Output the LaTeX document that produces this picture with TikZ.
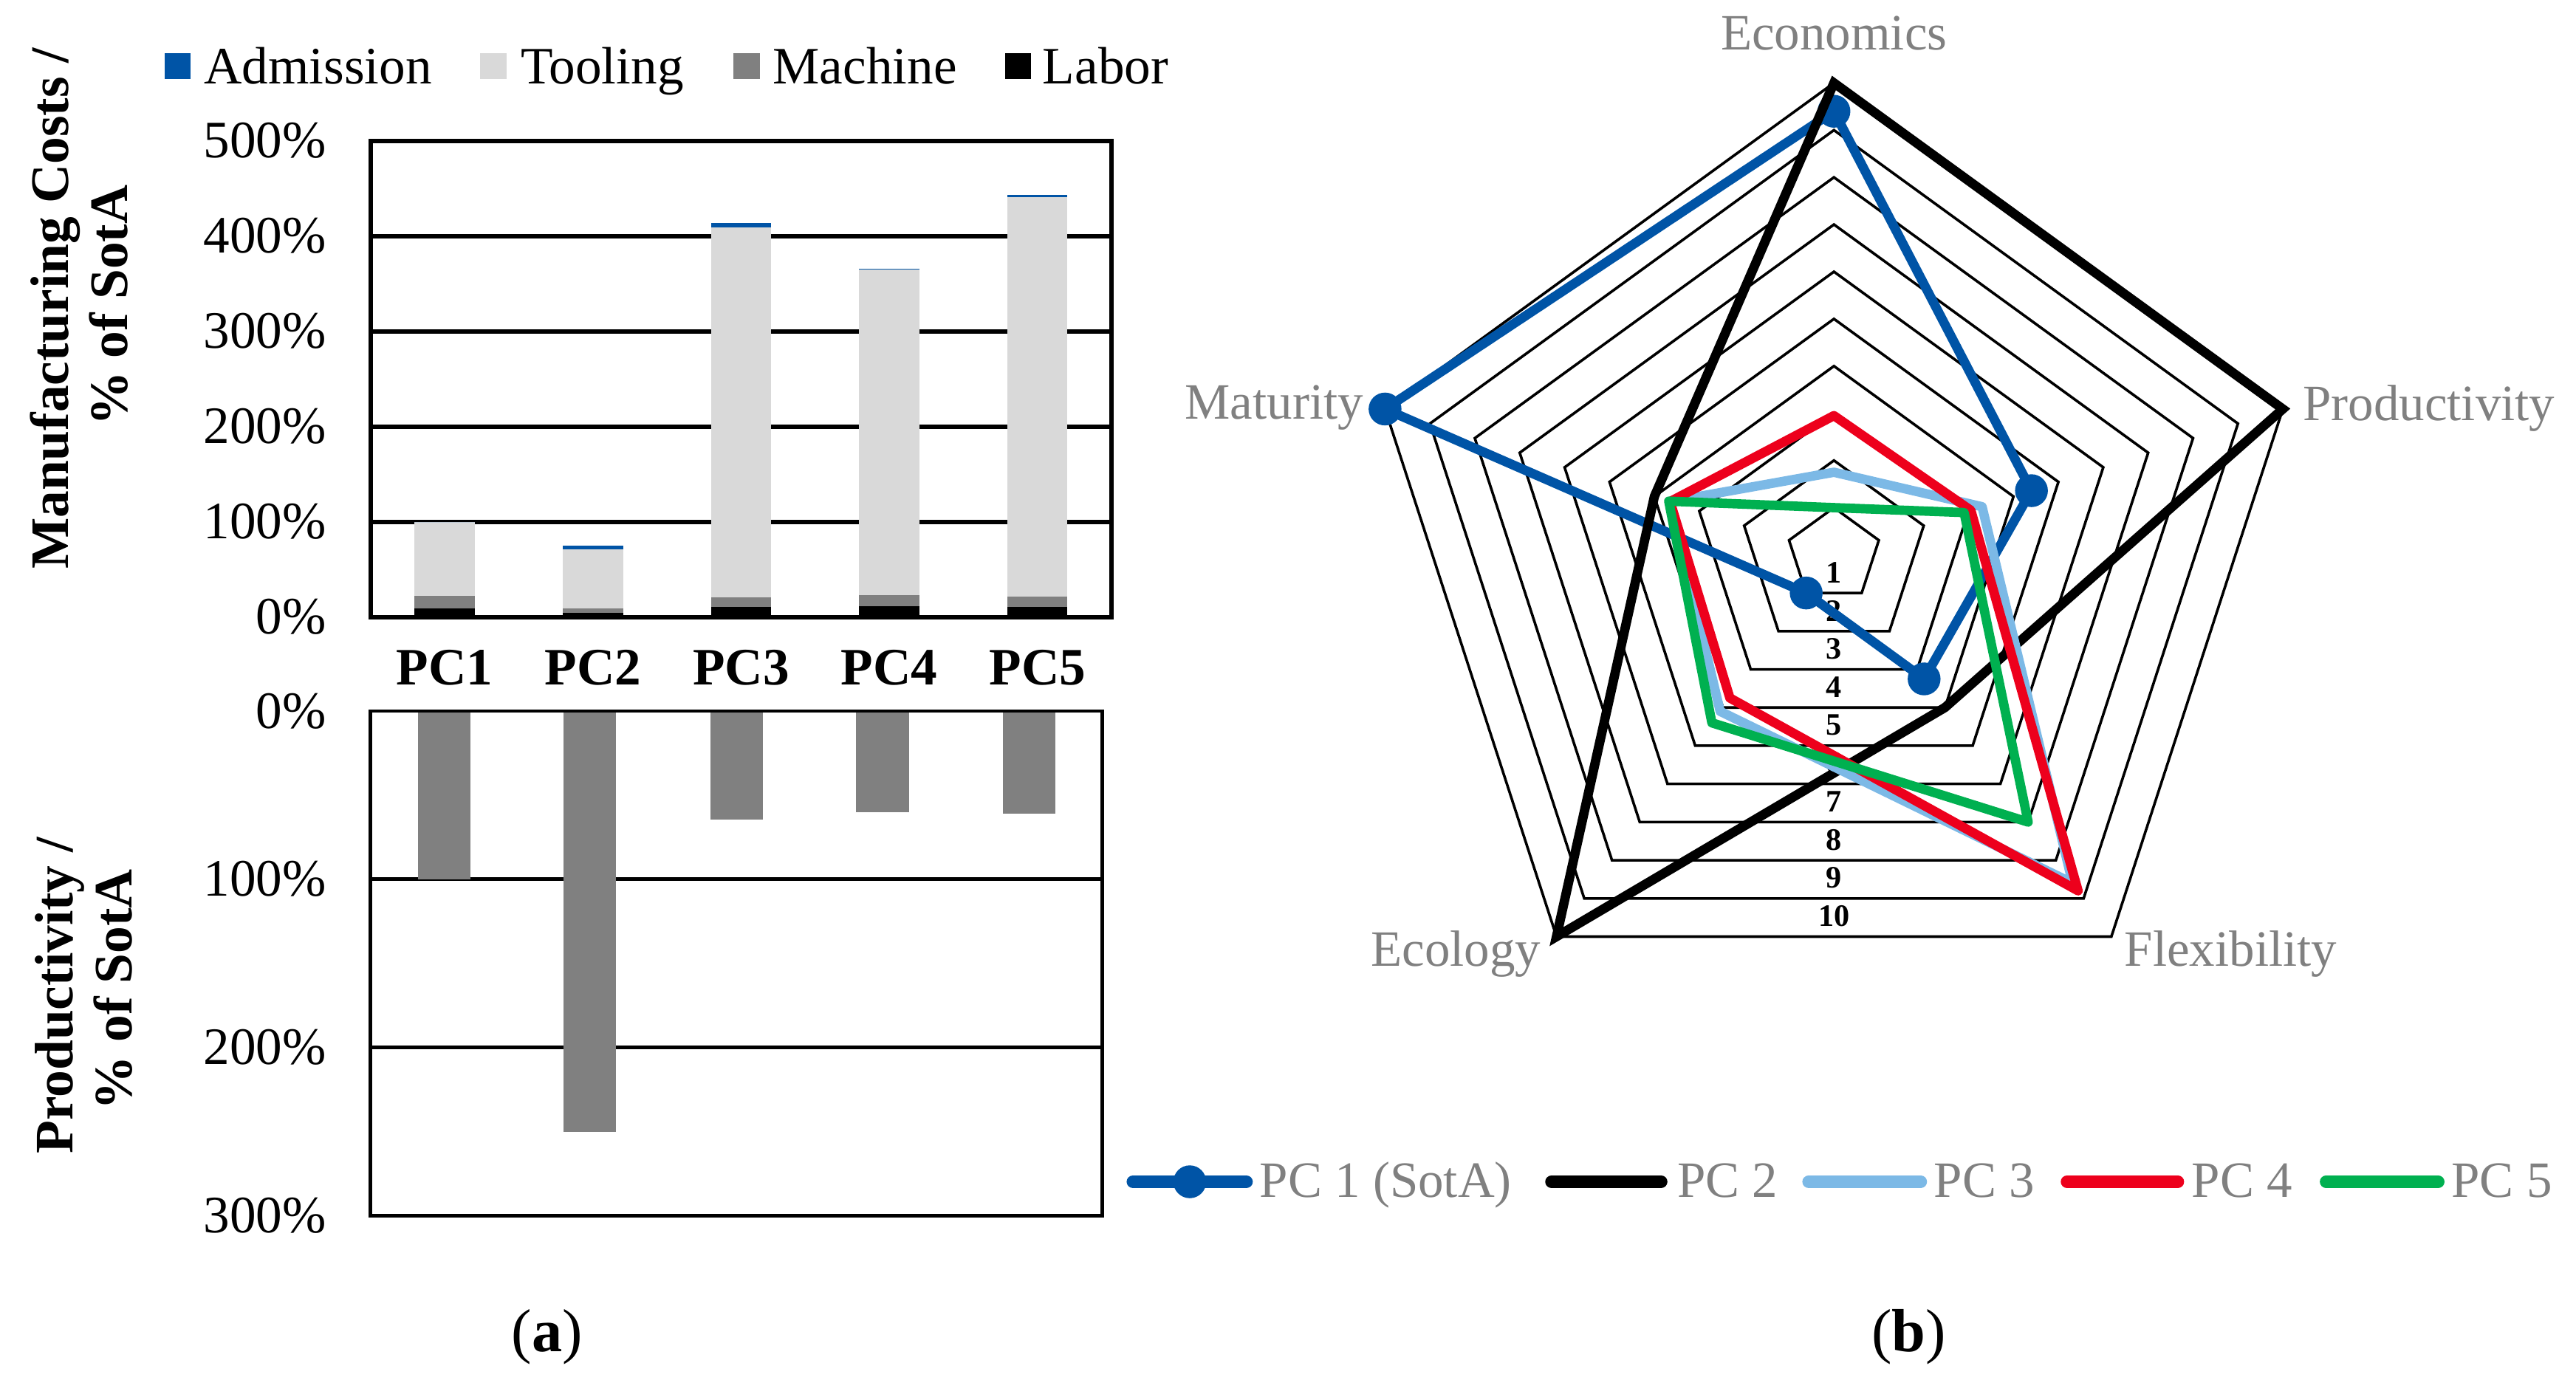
\documentclass[tikz,border=0pt]{standalone}
\usepackage{fontspec}
\setmainfont{Liberation Serif}
\definecolor{cblue}{RGB}{0,84,166}
\definecolor{clblue}{RGB}{124,185,230}
\definecolor{cred}{RGB}{237,0,28}
\definecolor{cgreen}{RGB}{0,176,80}
\definecolor{cgray}{RGB}{128,128,128}
\definecolor{ctool}{RGB}{217,217,217}
\def\cx{1116.3}
\def\cy{337.8}
\def\st{28.73}
\newcommand\radco[3]{\coordinate (#1) at ({\cx+#3*\st*sin(#2)},{\cy-#3*\st*cos(#2)});}
\begin{document}
\begin{tikzpicture}[x=1pt,y=-1pt,
  tick/.style={anchor=east,inner sep=0pt,font=\fontsize{32}{38}\selectfont},
  legtxt/.style={anchor=base west,inner sep=0pt,font=\fontsize{32}{38}\selectfont},
  pclab/.style={inner sep=0pt,font=\fontsize{32}{38}\selectfont\bfseries},
  ytitle/.style={rotate=90,anchor=base,inner sep=0pt,font=\fontsize{33}{38}\selectfont\bfseries},
  axlab/.style={inner sep=0pt,text=cgray,font=\fontsize{31}{36}\selectfont},
  ringlab/.style={inner sep=0pt,font=\fontsize{19}{22}\selectfont\bfseries},
  bleg/.style={anchor=base west,inner sep=0pt,text=cgray,font=\fontsize{31}{36}\selectfont},
  sublab/.style={inner sep=0pt,font=\fontsize{37}{42}\selectfont},
  gridln/.style={line width=2.6pt},
  gridlnb/.style={line width=2.2pt},
  ring/.style={line width=1.6pt,line join=miter},
  series/.style={line width=5.7pt,line join=round},
  legline/.style={line width=7.7pt,line cap=round}]
\useasboundingbox (0,0) rectangle (1568,840);

% ---------- top bar chart ----------
\node[legtxt] (lAdm) at (124,51.2) {Admission};
\node[legtxt] (lToo) at (316.8,51.2) {Tooling};
\node[legtxt] (lMac) at (470.3,51.2) {Machine};
\node[legtxt] (lLab) at (634.5,51.2) {Labor};
\fill[cblue] (100.4,32.5) rectangle (116.2,48.3);
\fill[ctool] (292,32.5) rectangle (308.3,48.3);
\fill[cgray] (446.4,32.5) rectangle (462.5,48.3);
\fill[black] (611.6,32.5) rectangle (627.7,48.3);

\foreach \yy/\lab [count=\i] in {85.7/500\%,143.7/400\%,201.7/300\%,259.7/200\%,317.7/100\%,375.7/0\%}
  \node[tick] (tt\i) at (198.7,\yy) {\lab};
\foreach \yy in {143.7,201.7,259.7,317.7}
  \draw[gridln] (225.6,\yy) -- (676.4,\yy);

\foreach \c/\l/\m/\t/\a in {270.7/9.4/22.5/100/100,360.9/4.7/9.4/71.2/75,451.1/10.8/21/409/413.8,541.3/11.7/23.4/365/366,631.5/10.8/21.6/440.5/443}{
  \fill[black] ({\c-18.3},375.7) rectangle ({\c+18.3},{375.7-0.58*\l});
  \fill[cgray] ({\c-18.3},{375.7-0.58*\l}) rectangle ({\c+18.3},{375.7-0.58*\m});
  \fill[ctool] ({\c-18.3},{375.7-0.58*\m}) rectangle ({\c+18.3},{375.7-0.58*\t});
  \fill[cblue] ({\c-18.3},{375.7-0.58*\t}) rectangle ({\c+18.3},{375.7-0.58*\a});
}
\draw[gridln] (225.6,85.7) rectangle (676.4,375.7);

\node[ytitle] (yt1) at (41.5,188) {Manufacturing Costs /};
\node[ytitle] (yt2) at (77.5,186) {\% of SotA};

\foreach \c/\n in {270.7/1,360.9/2,451.1/3,541.3/4,631.5/5}
  \node[pclab] (pc\n) at (\c,406.4) {PC\n};

% ---------- bottom bar chart ----------
\foreach \yy/\lab [count=\i] in {432.9/0\%,535.3/100\%,637.8/200\%,740.2/300\%}
  \node[tick] (bt\i) at (198.7,\yy) {\lab};
\foreach \yy in {535.3,637.8}
  \draw[gridlnb] (225.6,\yy) -- (671,\yy);
\foreach \c/\v in {270.4/100,359/250,448.5/64.6,537.2/60,626.4/61}
  \fill[cgray] ({\c-16},432.9) rectangle ({\c+16},{432.9+1.0243*\v});
\draw[gridlnb] (225.6,432.9) rectangle (671,740.2);

\node[ytitle] (yb1) at (44.5,606) {Productivity /};
\node[ytitle] (yb2) at (80.4,602.5) {\% of SotA};

\node[sublab] (suba) at (333,814) {(\textbf{a})};

% ---------- radar chart ----------
\foreach \k in {1,...,10}
  \draw[ring] ({\cx},{\cy-\k*\st}) -- ({\cx+\k*\st*sin(72)},{\cy-\k*\st*cos(72)})
    -- ({\cx+\k*\st*sin(144)},{\cy-\k*\st*cos(144)})
    -- ({\cx+\k*\st*sin(216)},{\cy-\k*\st*cos(216)})
    -- ({\cx+\k*\st*sin(288)},{\cy-\k*\st*cos(288)}) -- cycle;
\foreach \k in {1,...,10}
  \node[ringlab] (rl\k) at ({\cx},{\cy+0.809*\k*\st-12.5}) {\k};

\node[axlab,anchor=base] (aEco) at (1116.3,30.3) {Economics};
\node[axlab,anchor=base west] (aPro) at (1401.6,255.8) {Productivity};
\node[axlab,anchor=base west] (aFle) at (1293,588) {Flexibility};
\node[axlab,anchor=base east] (aEcl) at (938,588) {Ecology};
\node[axlab,anchor=base east] (aMat) at (830,255) {Maturity};

% series values: Economics(0), Productivity(72), Flexibility(144), Ecology(216), Maturity(288)
\radco{b1}{0}{9.4}\radco{b2}{72}{4.4}\radco{b3}{144}{3.25}\radco{b4}{216}{1.0}\radco{b5}{288}{10}
\radco{k1}{0}{10}\radco{k2}{72}{10}\radco{k3}{144}{4}\radco{k4}{216}{10}\radco{k5}{288}{4}
\radco{l1}{0}{1.75}\radco{l2}{72}{3.3}\radco{l3}{144}{8.6}\radco{l4}{216}{4.1}\radco{l5}{288}{3.65}
\radco{r1}{0}{2.95}\radco{r2}{72}{3.05}\radco{r3}{144}{8.8}\radco{r4}{216}{3.75}\radco{r5}{288}{3.65}
\radco{g1}{0}{1.0}\radco{g2}{72}{2.9}\radco{g3}{144}{7.0}\radco{g4}{216}{4.4}\radco{g5}{288}{3.68}

\draw[series,cblue] (b1) -- (b2) -- (b3) -- (b4) -- (b5) -- cycle;
\foreach \p in {b1,b2,b3,b4,b5}
  \fill[cblue] (\p) circle[radius=10pt];
\draw[series,black,line join=miter] (k1) -- (k2) -- (k3) -- (k4) -- (k5) -- cycle;
\draw[series,clblue] (l1) -- (l2) -- (l3) -- (l4) -- (l5) -- cycle;
\draw[series,cred] (r1) -- (r2) -- (r3) -- (r4) -- (r5) -- cycle;
\draw[series,cgreen] (g1) -- (g2) -- (g3) -- (g4) -- (g5) -- cycle;

% ---------- radar legend ----------
\coordinate (L1a) at (689.6,719.5); \coordinate (L1b) at (758.7,719.5);
\coordinate (L2a) at (944.4,719.5); \coordinate (L2b) at (1011.1,719.5);
\coordinate (L3a) at (1100.9,719.5); \coordinate (L3b) at (1169.1,719.5);
\coordinate (L4a) at (1258.2,719.5); \coordinate (L4b) at (1325.6,719.5);
\coordinate (L5a) at (1415.9,719.5); \coordinate (L5b) at (1484.1,719.5);
\draw[legline,cblue] (L1a) -- (L1b);
\fill[cblue] (724.2,719.5) circle[radius=10pt];
\draw[legline,black] (L2a) -- (L2b);
\draw[legline,clblue] (L3a) -- (L3b);
\draw[legline,cred] (L4a) -- (L4b);
\draw[legline,cgreen] (L5a) -- (L5b);
\node[bleg] (t1) at (766.6,729) {PC 1 (SotA)};
\node[bleg] (t2) at (1020.7,729) {PC 2};
\node[bleg] (t3) at (1177,729) {PC 3};
\node[bleg] (t4) at (1334,729) {PC 4};
\node[bleg] (t5) at (1492,729) {PC 5};

\node[sublab] (subb) at (1161.8,814) {(\textbf{b})};
\end{tikzpicture}
\end{document}
